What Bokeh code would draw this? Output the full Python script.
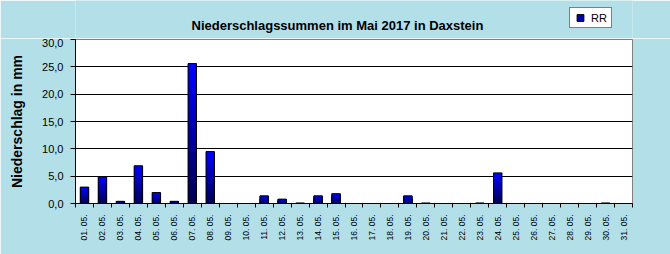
import math
from bokeh.plotting import figure
from bokeh.layouts import column
from bokeh.models import (ColumnDataSource, FixedTicker, Legend, LegendItem, Range1d, Label)
from bokeh.embed import file_html
from bokeh.resources import INLINE

# ---- data ----
days = ["%02d. 05." % d for d in range(1, 32)]
rr = [3.0, 4.9, 0.4, 6.9, 2.0, 0.4, 25.6, 9.5, 0.0, 0.0,
      1.4, 0.8, 0.1, 1.4, 1.8, 0.0, 0.0, 0.0, 1.4, 0.1,
      0.0, 0.0, 0.1, 5.6, 0.0, 0.0, 0.0, 0.0, 0.0, 0.1, 0.0]
y_ticks = [0, 5, 10, 15, 20, 25, 30]
y_tick_labels = ["0,0", "5,0", "10,0", "15,0", "20,0", "25,0", "30,0"]
title_text = "Niederschlagssummen im Mai 2017 in Daxstein"
y_label = "Niederschlag in mm"
series_name = "RR"

FONT = "Liberation Sans"
BG = "#b2dfe8"
BAR_W = 0.47
TOP_H = 38
LEFT, RIGHT = 75, 38
x_pos = [i + 0.5 for i in range(len(days))]

# ---- header strip: title + legend (frame aligned with the chart below) ----
head = figure(width=670, height=TOP_H, output_backend="svg", toolbar_location=None,
              x_range=Range1d(LEFT, 670 - RIGHT), y_range=Range1d(TOP_H, 0),
              x_axis_type=None, y_axis_type=None,
              min_border_left=LEFT, min_border_right=RIGHT,
              min_border_top=0, min_border_bottom=0,
              background_fill_color=BG, border_fill_color=BG, outline_line_color=None)
head.add_layout(Label(x=191, y=25, text=title_text, text_font=FONT,
                      text_font_size="13px", text_font_style="bold",
                      text_color="black", text_align="left",
                      text_baseline="alphabetic"))
# legend proxy: the series as square markers, lying outside this strip's visible range
r_leg = head.scatter(x=x_pos, y=rr, marker="square", size=7,
                     fill_color="#0000b0", line_color="black")
legend = Legend(items=[LegendItem(label=series_name, renderers=[r_leg])],
                location=(569 - LEFT, TOP_H - 28), orientation="vertical",
                border_line_color="black", border_line_width=1,
                background_fill_color="white", background_fill_alpha=1,
                label_text_font=FONT, label_text_font_size="11px",
                label_text_color="black", label_text_line_height=0.9,
                glyph_width=18, glyph_height=17, label_standoff=2,
                label_width=19, label_height=7, padding=1, margin=0, spacing=0)
head.add_layout(legend)

# ---- main chart ----
p = figure(width=670, height=254 - TOP_H, output_backend="svg", toolbar_location=None,
           x_range=Range1d(0, len(days)), y_range=Range1d(0, 30),
           min_border_left=LEFT, min_border_right=RIGHT, min_border_top=1, min_border_bottom=51,
           background_fill_color="white", border_fill_color=BG,
           outline_line_color="#808080")

# gradient bars: stacked overlays from full height (bright) to small (dark)
N = 30
top_c = (0, 0, 255)
bot_c = (0, 0, 80)
xs, tops, cols = [], [], []
for k in range(N):
    frac = (N - k) / N
    f = (N - k - 0.5) / N
    c = tuple(int(round(b + (t - b) * f)) for t, b in zip(top_c, bot_c))
    for i, v in enumerate(rr):
        if v <= 0:
            continue
        xs.append(x_pos[i])
        tops.append(v * frac)
        cols.append("#%02x%02x%02x" % c)
seg = ColumnDataSource(dict(x=xs, top=tops, color=cols))
p.vbar(x="x", top="top", bottom=0, width=BAR_W, source=seg,
       fill_color="color", line_color=None)

nz = [(x_pos[i], v) for i, v in enumerate(rr) if v > 0]
p.vbar(x=[a for a, _ in nz], top=[b for _, b in nz], bottom=0, width=BAR_W,
       fill_color=None, line_color="black", line_width=1)

# x axis
xa = p.xaxis[0]
xa.ticker = FixedTicker(ticks=x_pos, minor_ticks=list(range(len(days) + 1)))
xa.major_label_overrides = {x_pos[i]: days[i] for i in range(len(days))}
xa.major_label_orientation = math.pi / 2
xa.major_tick_in = 0
xa.major_tick_out = 0
xa.minor_tick_in = 0
xa.minor_tick_out = 4
xa.minor_tick_line_color = "black"
xa.axis_line_color = "black"
xa.major_label_standoff = 7
xa.major_label_text_font = FONT
xa.major_label_text_font_size = "8.5px"
xa.major_label_text_color = "black"

# y axis
ya = p.yaxis[0]
ya.ticker = FixedTicker(ticks=y_ticks, minor_ticks=[])
ya.major_label_overrides = dict(zip(y_ticks, y_tick_labels))
ya.major_tick_in = 0
ya.major_tick_out = 5
ya.major_tick_line_color = "black"
ya.minor_tick_out = 0
ya.minor_tick_in = 0
ya.axis_line_color = "black"
ya.major_label_standoff = 7
ya.major_label_text_font = FONT
ya.major_label_text_font_size = "11px"
ya.major_label_text_color = "black"
ya.axis_label = y_label
ya.axis_label_text_font = FONT
ya.axis_label_text_font_size = "14px"
ya.axis_label_text_font_style = "bold"
ya.axis_label_text_color = "black"
ya.axis_label_standoff = 14

p.xgrid.visible = False
p.ygrid.ticker = FixedTicker(ticks=y_ticks)
p.ygrid.grid_line_color = "black"

layout = column(head, p, spacing=0)
open("out.html", "w").write(file_html(layout, INLINE))
